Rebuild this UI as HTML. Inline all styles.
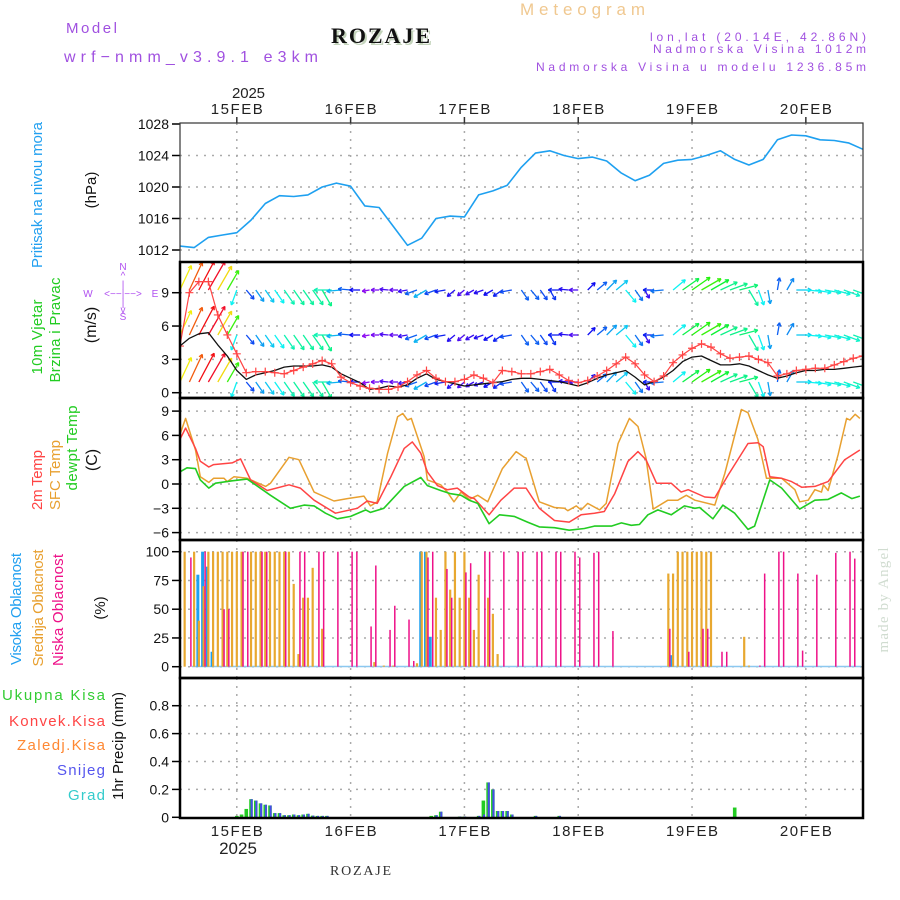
<!DOCTYPE html>
<html><head><meta charset="utf-8"><style>
html,body{margin:0;padding:0;background:#fff;}
svg{display:block;font-family:"Liberation Sans",sans-serif;}
</style></head><body>
<svg id="chart" width="900" height="900" viewBox="0 0 900 900" xmlns="http://www.w3.org/2000/svg">
<defs>
<clipPath id="c1"><rect x="180" y="123" width="683" height="139"/></clipPath>
<clipPath id="c2"><rect x="180" y="262" width="683" height="136"/></clipPath>
<clipPath id="c3"><rect x="180" y="398" width="683" height="142"/></clipPath>
<clipPath id="c4"><rect x="180" y="540" width="683" height="138"/></clipPath>
<clipPath id="c5"><rect x="180" y="678" width="683" height="140"/></clipPath>
</defs>
<rect width="900" height="900" fill="#fff"/>
<text x="66" y="33" font-size="15" fill="#a050e0" textLength="51">Model</text>
<text x="64" y="62" font-size="16" fill="#a050e0" textLength="254">wrf−nmm_v3.9.1  e3km</text>
<text x="520" y="15" font-size="17" fill="#f0c890" textLength="125">Meteogram</text>
<text x="333" y="45" font-size="22" font-weight="bold" font-family="Liberation Serif, serif" fill="#c4d4bc" textLength="99">ROZAJE</text>
<text x="331" y="43" font-size="22" font-weight="bold" font-family="Liberation Serif, serif" fill="#111" textLength="99">ROZAJE</text>
<text x="866" y="41" font-size="12" fill="#a050e0" text-anchor="end" textLength="216">lon,lat (20.14E, 42.86N)</text>
<text x="866" y="53" font-size="12" fill="#a050e0" text-anchor="end" textLength="213">Nadmorska Visina 1012m</text>
<text x="866" y="71" font-size="12" fill="#a050e0" text-anchor="end" textLength="330">Nadmorska Visina u modelu 1236.85m</text>
<text x="232" y="98" font-size="15" fill="#222" textLength="33">2025</text>
<text x="238" y="854" font-size="17" fill="#222" text-anchor="middle">2025</text>
<text x="330" y="875" font-size="14" font-family="Liberation Serif, serif" fill="#333" textLength="61">ROZAJE</text>
<text transform="rotate(-90 888 600)" x="888" y="600" font-size="15" font-family="Liberation Serif, serif" fill="#d0dcd0" text-anchor="middle" textLength="105">made by Angel</text>

<text transform="rotate(-90 42 195)" x="42" y="195" font-size="15" fill="#22a0f0" text-anchor="middle" textLength="146">Pritisak na nivou mora</text>
<text transform="rotate(-90 96 190)" x="96" y="190" font-size="15" fill="#111" text-anchor="middle">(hPa)</text>
<text transform="rotate(-90 42 337)" x="42" y="337" font-size="15" fill="#22cc22" text-anchor="middle" textLength="75">10m Vjetar</text>
<text transform="rotate(-90 60 330)" x="60" y="330" font-size="15" fill="#22cc22" text-anchor="middle" textLength="105">Brzina i Pravac</text>
<text transform="rotate(-90 96 325)" x="96" y="325" font-size="16" fill="#111" text-anchor="middle">(m/s)</text>
<g font-size="10" fill="#b050f0" text-anchor="middle">
<text x="123" y="270">N</text><text x="123" y="279">^</text><text x="123" y="288">|</text>
<text x="88" y="297">W</text><text x="123" y="297">&lt;−−|−−&gt;</text><text x="155" y="297">E</text>
<text x="123" y="306">|</text><text x="123" y="313">v</text><text x="123" y="320">S</text>
</g>
<text transform="rotate(-90 42 480)" x="42" y="480" font-size="15" fill="#ff4444" text-anchor="middle" textLength="60">2m Temp</text>
<text transform="rotate(-90 60 475)" x="60" y="475" font-size="15" fill="#e8a030" text-anchor="middle" textLength="70">SFC Temp</text>
<text transform="rotate(-90 77 448)" x="77" y="448" font-size="15" fill="#22cc22" text-anchor="middle" textLength="85">dewpt Temp</text>
<text transform="rotate(-90 97 460)" x="97" y="460" font-size="16" fill="#111" text-anchor="middle">(C)</text>
<text transform="rotate(-90 21 609)" x="21" y="609" font-size="15" fill="#22a0f0" text-anchor="middle" textLength="112">Visoka Oblacnost</text>
<text transform="rotate(-90 43 608)" x="43" y="608" font-size="15" fill="#e8a030" text-anchor="middle" textLength="117">Srednja Oblacnost</text>
<text transform="rotate(-90 63 610)" x="63" y="610" font-size="15" fill="#ee1188" text-anchor="middle" textLength="112">Niska Oblacnost</text>
<text transform="rotate(-90 105 608)" x="105" y="608" font-size="15" fill="#111" text-anchor="middle">(%)</text>
<text transform="rotate(-90 123 746)" x="123" y="746" font-size="15" fill="#111" text-anchor="middle" textLength="108">1hr Precip (mm)</text>
<g font-size="15" text-anchor="end">
<text x="105" y="700" fill="#33cc33" textLength="103">Ukupna  Kisa</text>
<text x="105" y="726" fill="#ff4444" textLength="96">Konvek.Kisa</text>
<text x="105" y="750" fill="#ff8833" textLength="88">Zaledj.Kisa</text>
<text x="105" y="775" fill="#5555ee" textLength="48">Snijeg</text>
<text x="105" y="800" fill="#33cccc" textLength="37">Grad</text>
</g>
<g id="plots"></g>
</svg>
<script>
// ---- data ----
const dayLabels = ['15FEB','16FEB','17FEB','18FEB','19FEB','20FEB'];
const pTicks = [1012,1016,1020,1024,1028];
const wTicks = [0,3,6,9];
const tTicks = [-6,-3,0,3,6,9];
const cTicks = [0,25,50,75,100];
const rTicks = [0,0.2,0.4,0.6,0.8];
const rTickLabels = ['0','0.2','0.4','0.6','0.8'];

const pressure = [1012.5,1012.3,1013.6,1013.9,1014.2,1015.8,1017.9,1018.9,1018.8,1019.0,1020.0,1020.5,1020.1,1017.6,1017.4,1015.0,1012.6,1013.5,1016.0,1016.3,1016.2,1019.0,1019.5,1020.2,1022.5,1024.3,1024.6,1024.0,1023.6,1023.8,1023.3,1021.8,1020.8,1021.5,1023.0,1023.4,1023.5,1024.0,1024.6,1023.5,1022.8,1023.5,1026.0,1026.6,1026.5,1026.0,1025.9,1025.6,1024.8];

const windSpeed = [4.2,4.9,5.3,5.4,4.3,3.3,2.0,1.2,1.6,1.8,2.0,2.3,2.4,2.4,2.4,2.5,2.3,1.7,1.3,0.9,0.3,0.4,0.6,0.5,0.7,1.3,1.7,1.2,1.0,0.8,0.6,0.7,0.8,0.9,1.0,1.2,1.3,1.3,1.2,1.1,1.0,0.8,0.6,0.9,1.3,1.6,1.8,2.0,1.4,0.7,1.0,1.4,2.0,2.8,3.2,3.3,2.9,2.5,2.5,2.6,2.4,2.0,1.6,1.3,1.5,1.8,2.0,2.0,2.1,2.1,2.2,2.3,2.4];
const windGust = [4.2,9,10,10,7,5.2,3.5,1.8,1.9,1.9,1.8,1.7,2.0,2.3,2.6,2.9,2.6,1.4,0.9,0.6,0.4,0.3,0.3,0.5,1.0,1.6,2.0,1.3,1.0,1.0,1.2,1.6,1.3,0.9,2.0,1.9,1.7,1.7,1.9,2.1,1.6,1.1,0.9,1.1,1.5,2.0,2.6,3.2,2.6,1.6,1.0,1.5,2.7,3.4,4.0,4.4,4.1,3.5,3.1,3.2,3.3,3.0,2.7,1.5,1.7,2.0,2.1,2.2,2.2,2.5,2.8,3.1,3.3];
const windDir = [25,25,28,30,30,30,200,140,145,145,145,145,145,145,145,150,270,265,275,270,260,270,275,270,260,250,240,250,260,230,230,240,250,240,235,260,145,140,145,150,270,275,270,45,50,45,50,140,145,150,270,265,50,55,55,60,60,65,70,75,150,160,170,10,30,90,95,100,100,105,110,110,115];

const t2mHours = [0,1.2,3.3,4.3,6.1,7.1,11,12.8,14.9,18.4,23,25.4,28.3,32.8,37.4,39.5,41.6,44.5,47.3,49,50.8,52.2,54.3,56.4,58.5,61,62.1,65.2,67.7,70.5,73,75.8,79,82.1,84.6,87.4,89.5,91.7,94.5,96.6,98.3,100.5,103.6,105.7,107.2,110.7,112.8,115.6,119.8,121.9,123,124.4,126.9,129,131.1,133.9,136.7,140.2,143.4];
const t2m = [5.5,6.9,4.4,2.8,2.1,2.4,2.6,3.1,0.5,-0.8,-0.1,-0.5,-2,-3.6,-3,-2.1,-2.4,0.9,4.4,5.2,3.8,1.5,-0.2,-0.7,-0.5,-1.6,-1.8,-3.8,-2,-0.5,-0.5,-3,-4.5,-4.7,-3.8,-3.6,-3.4,-1.2,2.8,4,3,0.1,0.1,-1,-0.7,-1.6,-1.7,1.1,5,5.1,4.6,0.9,0.7,0.3,-0.4,-0.3,0.3,3,4.2];
const sfcHours = [0,1.2,3.3,4.3,6.1,7.1,9.3,10,11.4,14.2,18.1,19.1,23,25.1,28.3,32.5,35.3,38.8,40.2,41.6,43.8,45.9,47,48,48.8,51.5,52.2,55,56.4,57.8,59.3,61,62.8,64.9,68,70.9,72.6,73,75.8,79,81.1,81.8,83.6,84.6,86,88.5,89.9,92.4,94.8,96.6,98.3,99.8,102.9,105,106.8,108.6,112.8,114.9,118.4,119.8,121.9,123.7,126.9,129.7,130.7,132.5,133.9,135.3,135.7,136.7,138.8,140.6,141.3,142.4,143.4];
const sfcTemp = [6.1,8.1,4.2,0.9,0.2,0.7,0.7,0.3,0.9,0.7,-0.3,0.1,3.3,3,-1,-2.1,-1.8,-1.5,-2.7,-2.2,3.8,8.3,8.7,7.9,8.1,3.4,0.5,-0.1,-1,-2.2,-1,-1.9,-1.4,-2.2,1.9,4,3.3,3.2,-2.2,-2.9,-3,-3.3,-2.7,-3.2,-2.4,-3.2,-2.4,5,8.1,7.1,3.2,-3.1,-2,-2,-1.4,-2,-2.6,1.3,9.2,8.8,5.5,0.7,0.7,-0.7,-2.2,-2,-0.7,-1,-0.1,-0.8,3.6,8.1,7.9,8.6,8.1];
const dewHours = [0,1.5,3.3,4.3,6.1,7.5,11,14.2,19.1,23.3,26.2,28.3,30.7,33.2,36,39.2,40.2,43,47.3,50.8,52.2,55,57.1,59.3,61,62.8,65.2,67.4,70.5,73.3,75.8,79,82.1,85.3,87.4,91,93.1,95.2,96.9,98.7,100.8,103.6,106.4,108.6,109.6,112.4,114.5,117,119.8,121.2,124.4,126.9,130.7,133.9,136.7,139.5,141.7,143.4];
const dewTemp = [1.5,2,1.9,0.5,-0.5,0.1,0.4,0.6,-1.4,-3,-2.6,-2.7,-3.6,-4.3,-4,-3.2,-3.5,-3,-0.3,0.8,-0.2,-0.8,-1.2,-1.4,-2,-2.4,-4.9,-3.8,-4,-4.7,-5.3,-5.4,-5.7,-5.5,-5.2,-5.2,-4.8,-5.1,-5,-3.8,-3.2,-3.8,-2.7,-3,-2.9,-4.3,-2.6,-3.6,-5.6,-5.2,0.5,-0.5,-3.1,-2,-1.9,-1.1,-1.8,-1.5];

const midCloudHours = [1,3,4,5,6,7,8,9,10,11,12,13,15,16,17,18,19,20,21,22,23,24,25,26,27,28,30,41,43,45,50,51,52,54,55,56,57,58,59,60,61,62,63,65,66,67,103,104,105,106,107,108,109,110,111,112,119,120];
const midCloud = [100,100,40,70,100,100,100,100,100,100,100,100,100,100,100,100,100,100,100,100,100,72,11,60,60,86,33,4,1,1,3,100,100,60,32,100,67,100,60,100,60,32,80,60,46,11,81,81,100,100,100,100,100,100,100,100,26,1];
const lowCloudHours = [2,5,9,10,13,14,17,18,22,25,26,29,30,33,36,37,40,41,44,45,48,49,52,53,56,57,60,61,64,65,68,71,72,75,76,79,80,83,84,87,88,91,103,107,110,111,114,115,122,123,126,127,130,131,134,138,141,142];
const lowCloud = [95,100,50,50,100,100,100,100,100,100,100,100,100,100,100,100,35,88,32,53,41,5,95,100,85,60,82,90,100,100,100,100,100,100,100,100,100,100,95,99,100,31,33,13,33,33,13,13,1,81,100,100,81,14,80,99,100,94];
const highCloudHours = [0,4,5,6,7,51,52,53,104];
const highCloud = [33,80,100,87,13,100,100,26,10];

const precipHours = [12,13,14,15,16,17,18,19,20,21,22,23,24,25,26,27,28,29,30,31,53,54,55,59,60,63,64,65,66,67,68,69,70,75,80,117];
const precipTotal = [0.01,0.02,0.06,0.13,0.12,0.1,0.09,0.085,0.03,0.03,0.015,0.015,0.02,0.015,0.02,0.025,0.012,0.01,0.01,0.01,0.01,0.015,0.04,0.005,0.005,0.01,0.12,0.25,0.2,0.045,0.045,0.045,0.02,0.01,0.01,0.07];
const precipSnow = [0,0,0,0.13,0.12,0.1,0.09,0.085,0.03,0.03,0.015,0.015,0.02,0.015,0.02,0.025,0.012,0.01,0.01,0.01,0,0.015,0.04,0.005,0.005,0.01,0.02,0.25,0.2,0.045,0.045,0.045,0.02,0.01,0.01,0];

// ---- scales ----
const NS = 'http://www.w3.org/2000/svg';
const X0 = 179.9, DXH = 4.742, XL = 180, XR = 863;
function xT(t){ return X0 + t*DXH; }
function yP(p){ return 124 + (1028-p)*7.875; }
function yW(v){ return 392.7 - v*11.11; }
function yT(c){ return 484 - c*8.1; }
function yC(c){ return 666.7 - c*1.15; }
function yR(r){ return 817.3 - r*139.5; }

const plots = document.getElementById('plots');
function mk(tag, attrs, parent){
  const e = document.createElementNS(NS, tag);
  for (const k in attrs) e.setAttribute(k, attrs[k]);
  (parent||plots).appendChild(e);
  return e;
}
const panels = [
  {name:'pressure', top:123, bot:262, ticks:pTicks, labels:pTicks.map(String), f:yP, clip:'c1', grid:[1012,1016,1020,1024]},
  {name:'wind', top:262, bot:398, ticks:wTicks, labels:wTicks.map(String), f:yW, clip:'c2', grid:wTicks},
  {name:'temperature', top:398, bot:540, ticks:tTicks, labels:tTicks.map(v=>v<0?'−'+(-v):String(v)), f:yT, clip:'c3', grid:tTicks},
  {name:'cloud', top:540, bot:678, ticks:cTicks, labels:cTicks.map(String), f:yC, clip:'c4', grid:cTicks},
  {name:'precip', top:678, bot:818, ticks:rTicks, labels:rTickLabels, f:yR, clip:'c5', grid:[0.2,0.4,0.6,0.8]}
];
panels.forEach(p=>{
  const g = mk('g', {});
  
  
  p.grid.forEach(v=>{
    const l = mk('line', {x1:XL, x2:XR, y1:p.f(v), y2:p.f(v), stroke:'#aaa', 'stroke-width':1.5, 'stroke-dasharray':'2,6'}, g);
    
    
  });
  dayLabels.forEach((d,i)=>{
    const x = xT(12+24*i);
    const l = mk('line', {x1:x, x2:x, y1:p.top, y2:p.bot, stroke:'#aaa', 'stroke-width':1.5, 'stroke-dasharray':'2,6'}, g);
    
    
  });
  p.ticks.forEach((v,i)=>{
    const y = p.f(v);
    const tk = mk('line', {x1:172, x2:XL, y1:y, y2:y, stroke:'#000', 'stroke-width':1.5});
    
    
    const tx = mk('text', {x:169, y:y+5, 'font-size':14, 'text-anchor':'end', fill:'#111'});
    tx.textContent = p.labels[i];
    
    
  });
});
dayLabels.forEach((d,i)=>{
  const x = xT(12+24*i);
  const a = mk('text', {x:x, y:114, 'font-size':15, 'text-anchor':'middle', fill:'#222', textLength:52});
  a.textContent = d;
  
  
  const b = mk('text', {x:x, y:836, 'font-size':15, 'text-anchor':'middle', fill:'#222', textLength:52});
  b.textContent = d;
  
  
  const tk = mk('line', {x1:x, x2:x, y1:117, y2:123, stroke:'#333', 'stroke-width':1.5});
  
  
});

function poly(ts, vs, fy, color, clip, name, w){
  const pts = ts.map((t,i)=>xT(t).toFixed(1)+','+fy(vs[i]).toFixed(1)).join(' ');
  const pl = mk('polyline', {points:pts, fill:'none', stroke:color, 'stroke-width':w||1.5, 'clip-path':'url(#'+clip+')', 'stroke-linejoin':'round'});
  
  
  return pl;
}
const pHours = pressure.map((v,i)=>i*3);
poly(pHours, pressure, yP, '#1ea0f0', 'c1', 'pressure-line', 1.6);

const wHours = windSpeed.map((v,i)=>i*2);
function windColor(s){ let h = 290 - s*55; if (h < -20) h = -20; return 'hsl('+((h+360)%360)+',90%,50%)'; }
const rows = [290,335,382,428];
const wg = mk('g', {'clip-path':'url(#c2)'});


rows.forEach(ry=>{
  wHours.forEach((t,i)=>{
    const s = windSpeed[i], a = windDir[i]*Math.PI/180;
    const L = 6 + 5*s;
    const x1 = xT(t), y1 = ry;
    const x2 = x1 + L*Math.sin(a), y2 = y1 - L*Math.cos(a);
    const c = windColor(s);
    const g = mk('g', {stroke:c, 'stroke-width':1.3, fill:'none'}, wg);
    
    
    mk('line', {x1:x1, y1:y1, x2:x2, y2:y2}, g);
    const hl = 4;
    [a+Math.PI-0.5, a+Math.PI+0.5].forEach(b=>{
      mk('line', {x1:x2, y1:y2, x2:x2+hl*Math.sin(b), y2:y2-hl*Math.cos(b)}, g);
    });
  });
});
poly(wHours, windSpeed, yW, '#111', 'c2', 'wind-speed-line', 1.3);
poly(wHours, windGust, yW, '#ff4444', 'c2', 'wind-gust-line', 1.2);
const gm = mk('g', {stroke:'#ff4444', 'stroke-width':1.2, 'clip-path':'url(#c2)'});


wHours.forEach((t,i)=>{
  const x = xT(t), y = yW(windGust[i]);
  const m = mk('path', {d:'M'+(x-4)+' '+y+'h8M'+x+' '+(y-4)+'v8'}, gm);
  
  
});

poly(sfcHours, sfcTemp, yT, '#e8a030', 'c3', 'sfc-temp-line', 1.5);
poly(t2mHours, t2m, yT, '#ff4444', 'c3', 'temp-2m-line', 1.5);
poly(dewHours, dewTemp, yT, '#22cc22', 'c3', 'dewpoint-line', 1.6);

const cz = mk('line', {x1:192, x2:861, y1:666.5, y2:666.5, stroke:'#8cc8f0', 'stroke-width':1.5});


function bars(hours, vals, fy, color, w, dx, name, clip){
  hours.forEach((t,i)=>{
    const x = xT(t)+dx, y0 = fy(0), y = fy(vals[i]);
    const r = mk('rect', {x:x-w/2, y:Math.min(y,y0), width:w, height:Math.max(Math.abs(y0-y),0.8), fill:color, 'clip-path':'url(#'+clip+')'});
    
    
  });
}
bars(highCloudHours, highCloud, yC, '#1ea0f0', 3, -1, 'high-cloud-bar', 'c4');
bars(midCloudHours, midCloud, yC, '#e8a830', 2.2, 0, 'mid-cloud-bar', 'c4');
bars(lowCloudHours, lowCloud, yC, '#ee1188', 1.5, 1.5, 'low-cloud-bar', 'c4');

bars(precipHours, precipTotal, yR, '#22cc22', 3.6, 0, 'precip-total-bar', 'c5');
bars(precipHours, precipSnow, yR, '#4848ee', 2, 0.6, 'precip-snow-bar', 'c5');

const fr = mk('g', {fill:'none', stroke:'#000'});


mk('rect', {x:XL, y:123, width:XR-XL, height:139, 'stroke-width':1.2, stroke:'#333'}, fr);
[[262,398],[398,540],[540,678],[678,818]].forEach(p=>{
  mk('rect', {x:XL, y:p[0], width:XR-XL, height:p[1]-p[0], 'stroke-width':2.5}, fr);
});
</script>
</body></html>
